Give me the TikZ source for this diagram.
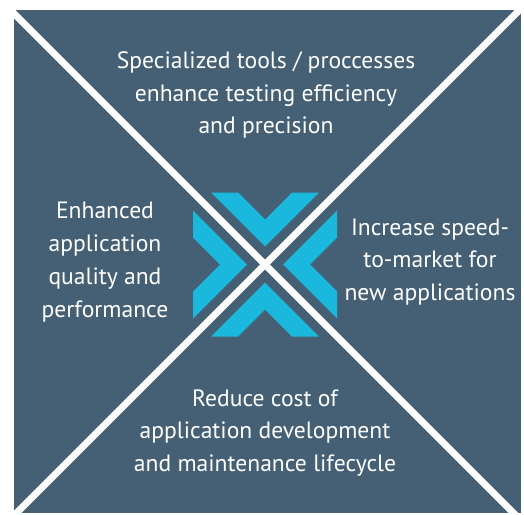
\documentclass[tikz,border=0pt]{standalone}
\usepackage{fontspec}
\setmainfont{PT Sans}
\usetikzlibrary{calc}
\definecolor{slate}{RGB}{69,96,117}
\definecolor{cyanx}{RGB}{26,184,220}
\tikzset{
  lbl/.style={text=white, align=center, inner sep=0pt, font=\fontsize{23.6}{32.8}\selectfont},
  chev/.style={fill=cyanx, draw=none},
  cut/.style={draw=white, line width=7pt}
}
\begin{document}
\begin{tikzpicture}[x=1pt,y=-1pt]
\useasboundingbox (0,0) rectangle (524,514);
\fill[white] (0,0) rectangle (524,514);
\fill[slate] (14,10) rectangle (521,513);
\coordinate (c) at (265,264.5);
\foreach \r in {0,90,180,270}{
  \begin{scope}[shift={(c)}, rotate=\r]
    \fill[chev] (-54,-72) -- (-27,-72) -- (0,-45) -- (27,-72) -- (54,-72) -- (0,-18) -- cycle;
  \end{scope}
}
\begin{scope}
  \clip (14,10) rectangle (521,513);
  \coordinate (tl) at ($(c)+(-300,-300)$);
  \coordinate (br) at ($(c)+(300,300)$);
  \coordinate (tr) at ($(c)+(300,-300)$);
  \coordinate (bl) at ($(c)+(-300,300)$);
  \draw[cut] (tl) -- (br);
  \draw[cut] (tr) -- (bl);
\end{scope}
\node[lbl] (top) at (266,95) {Specialized tools / proccesses\\enhance testing efficiency\\and precision};
\node[lbl] (left) at (105,262) {Enhanced\\application\\quality and\\performance};
\node[lbl] (right) at (430,262) {Increase speed-\\to-market for\\new applications};
\node[lbl] (bottom) at (265,433) {Reduce cost of\\application development\\and maintenance lifecycle};
\end{tikzpicture}
\end{document}
